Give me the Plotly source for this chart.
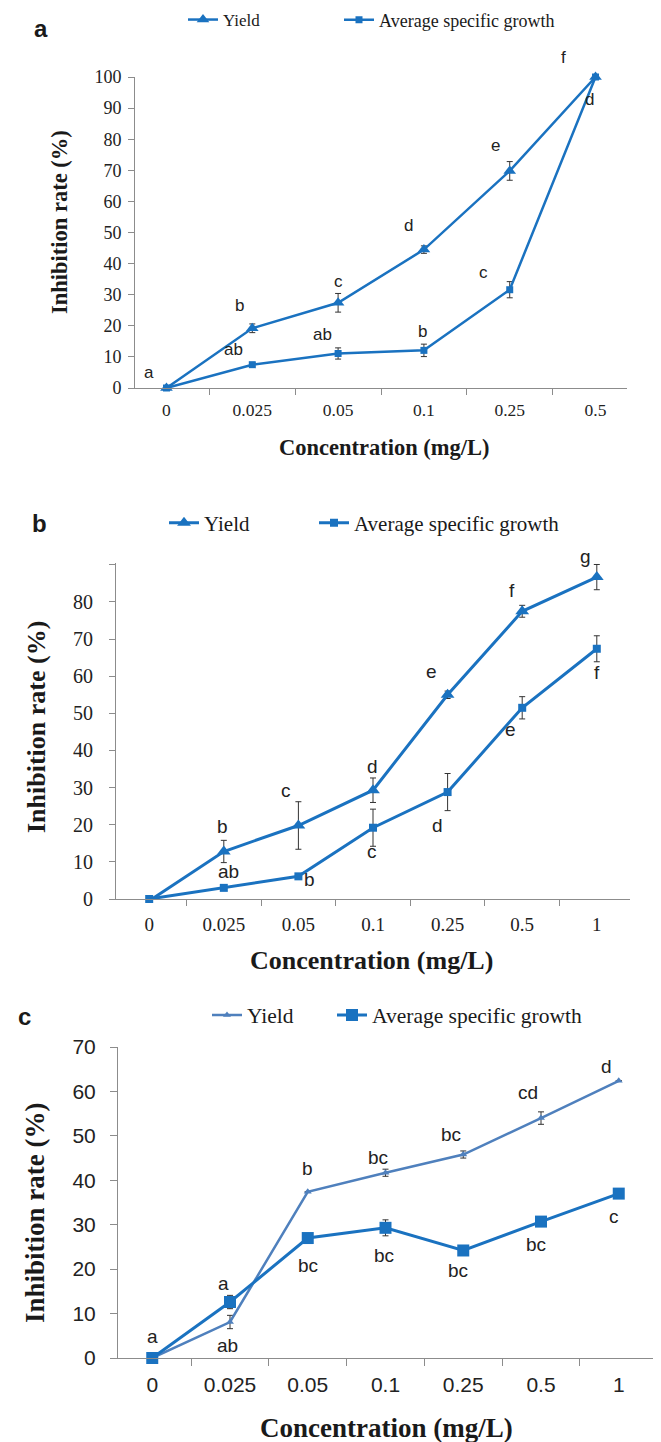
import plotly.graph_objects as go

W, H = 661, 1442

# ---- panel a ----
conc_a = ["0", "0.025", "0.05", "0.1", "0.25", "0.5"]
yield_a = [0, 19.2, 27.4, 44.5, 69.8, 100]
yield_a_err = [0, 1.4, 3.0, 1.2, 3.0, 0]
asg_a = [0, 7.5, 11.1, 12.1, 31.6, 100]
asg_a_err = [0, 0.7, 1.8, 2.0, 2.6, 0]
yield_a_letters = ["a", "b", "c", "d", "e", "f"]
asg_a_letters = ["", "ab", "ab", "b", "c", "d"]

# ---- panel b ----
conc_b = ["0", "0.025", "0.05", "0.1", "0.25", "0.5", "1"]
yield_b = [-0.5, 12.8, 19.8, 29.3, 55.0, 77.5, 86.7]
yield_b_err = [0, 3.0, 6.4, 3.3, 1.0, 1.6, 3.4]
asg_b = [0, 3.0, 6.1, 19.2, 28.8, 51.5, 67.4]
asg_b_err = [0, 0, 0, 5.0, 5.0, 3.0, 3.5]
yield_b_letters = ["a", "b", "c", "d", "e", "f", "g"]
asg_b_letters = ["", "ab", "b", "c", "d", "e", "f"]

# ---- panel c ----
conc_c = ["0", "0.025", "0.05", "0.1", "0.25", "0.5", "1"]
yield_c = [0, 8.1, 37.4, 41.7, 45.8, 54.0, 62.4]
yield_c_err = [0, 1.5, 0, 0.8, 0.8, 1.4, 0]
asg_c = [0, 12.6, 27.0, 29.3, 24.2, 30.7, 37.0]
asg_c_err = [0, 1.5, 0, 1.8, 0, 0, 0]
yield_c_letters = ["a", "ab", "b", "bc", "bc", "cd", "d"]
asg_c_letters = ["", "a", "bc", "bc", "bc", "bc", "c"]

# label offsets in pixels (xshift, yshift) for each letter
yield_a_shift = [(-17, 16), (-13, 23), (0, 21), (-15, 24), (-14, 25), (-32, 19)]
asg_a_shift = [(0, 0), (-19, 15), (-16, 19), (-1, 19), (-26, 17), (-6, -23)]
yield_b_shift = [(-13, 16), (-1, 25), (-12, 35), (-1, 24), (-16, 23), (-10, 21), (-11, 21)]
asg_b_shift = [(0, 0), (5, 16), (11, -3), (-1, -24), (-10, -33), (-12, -22), (0, -24)]
yield_c_shift = [(0, 22), (-3, -23), (0, 23), (-8, 15), (-12, 20), (-13, 26), (-12, 14)]
asg_c_shift = [(0, 0), (-7, 19), (0, -27), (-2, -28), (-5, -20), (-5, -23), (-5, -23)]

BLUE = "#1a72c0"
BLUE_LIGHT = "#4f80bd"
SERIF = "Liberation Serif"
SANS = "Liberation Sans"
INK = "#1a1a1a"


def dom_x(p0, p1):
    return [p0 / W, p1 / W]


def dom_y(bottom, top):
    return [1 - bottom / H, 1 - top / H]


fig = go.Figure()


def add_panel(n, conc, yv, ye, av, ae, yl, al, ys, ash, yield_style, asg_style, legends):
    xa = "x" if n == 1 else "x%d" % n
    ya = "y" if n == 1 else "y%d" % n
    err = dict(color="#333333", thickness=1, width=3)
    fig.add_trace(go.Scatter(
        x=conc, y=yv, name="Yield", mode="lines+markers",
        line=dict(color=yield_style["color"], width=yield_style["lw"]),
        marker=dict(symbol="triangle-up", size=yield_style["ms"], color=yield_style["color"]),
        error_y=dict(type="data", array=ye, visible=True, **err),
        xaxis=xa, yaxis=ya, legend=legends[0], cliponaxis=False))
    fig.add_trace(go.Scatter(
        x=conc, y=av, name="Average specific growth", mode="lines+markers",
        line=dict(color=asg_style["color"], width=asg_style["lw"]),
        marker=dict(symbol="square", size=asg_style["ms"], color=asg_style["color"]),
        error_y=dict(type="data", array=ae, visible=True, **err),
        xaxis=xa, yaxis=ya, legend=legends[1], cliponaxis=False))
    for labels, vals, shifts in ((yl, yv, ys), (al, av, ash)):
        for i, (v, t, s) in enumerate(zip(vals, labels, shifts)):
            if not t:
                continue
            fig.add_annotation(x=i, y=v, xref=xa, yref=ya, text=t, showarrow=False,
                               xshift=s[0], yshift=s[1],
                               font=dict(family=SANS, size=yield_style["lf"], color="#222222"))


add_panel(1, conc_a, yield_a, yield_a_err, asg_a, asg_a_err, yield_a_letters, asg_a_letters,
          yield_a_shift, asg_a_shift,
          dict(color=BLUE, lw=2.5, ms=11, lf=17), dict(color=BLUE, lw=2.5, ms=7),
          ("legend", "legend2"))
add_panel(2, conc_b, yield_b, yield_b_err, asg_b, asg_b_err, yield_b_letters, asg_b_letters,
          yield_b_shift, asg_b_shift,
          dict(color=BLUE, lw=3, ms=12, lf=19), dict(color=BLUE, lw=3, ms=8),
          ("legend3", "legend4"))
add_panel(3, conc_c, yield_c, yield_c_err, asg_c, asg_c_err, yield_c_letters, asg_c_letters,
          yield_c_shift, asg_c_shift,
          dict(color=BLUE_LIGHT, lw=2.5, ms=7, lf=19), dict(color=BLUE, lw=3, ms=12),
          ("legend5", "legend6"))

axis_common = dict(showline=True, linecolor="#8c8c8c", linewidth=1, ticks="outside",
                   tickcolor="#8c8c8c", showgrid=False, zeroline=False, fixedrange=True)


def legend_at(text_x, yc, size):
    # text_x: where the legend text should start, in px
    return dict(orientation="h", x=(text_x - 40) / W, y=1 - yc / H, xanchor="left",
                yanchor="middle", font=dict(family=SERIF, size=size, color=INK),
                itemwidth=30, bgcolor="rgba(0,0,0,0)")


fig.update_layout(
    width=W, height=H, margin=dict(l=0, r=0, t=0, b=0, autoexpand=False),
    paper_bgcolor="white", plot_bgcolor="white", showlegend=True,
    # panel a
    xaxis=dict(domain=dom_x(135, 627), anchor="y", type="category", tickson="boundaries",
               ticklen=6, tickfont=dict(family=SERIF, size=17.5, color="#222222"),
               ticklabelstandoff=6, **axis_common),
    yaxis=dict(domain=dom_y(388, 77), anchor="x", range=[0, 100], tickvals=list(range(0, 101, 10)),
               ticklen=6, tickfont=dict(family=SERIF, size=18, color="#222222"),
               ticklabelstandoff=3, **axis_common),
    # panel b
    xaxis2=dict(domain=dom_x(116, 630), anchor="y2", type="category", tickson="boundaries",
                ticklen=6, tickfont=dict(family=SERIF, size=19, color="#222222"),
                ticklabelstandoff=8, **axis_common),
    yaxis2=dict(domain=dom_y(899, 563), anchor="x2", range=[0, 90.5],
                tickvals=list(range(0, 91, 10)),
                ticktext=[str(v) if v < 90 else "" for v in range(0, 91, 10)],
                ticklen=6, tickfont=dict(family=SERIF, size=20, color="#222222"),
                ticklabelstandoff=12, **axis_common),
    # panel c
    xaxis3=dict(domain=dom_x(118, 653), anchor="y3", type="category", tickson="boundaries",
                ticklen=7, tickfont=dict(family=SANS, size=21, color="#222222"),
                ticklabelstandoff=8, **axis_common),
    yaxis3=dict(domain=dom_y(1358, 1047), anchor="x3", range=[0, 70],
                tickvals=list(range(0, 71, 10)),
                ticklen=7, tickfont=dict(family=SANS, size=21, color="#222222"),
                ticklabelstandoff=10, **axis_common),
    legend=legend_at(223, 20, 17),
    legend2=legend_at(379, 20, 18),
    legend3=legend_at(204, 523, 21),
    legend4=legend_at(354, 523, 21),
    legend5=legend_at(247, 1015, 21.5),
    legend6=legend_at(372, 1015, 21.5),
)

# axis titles and panel letters
x_titles = [(384, 448, 22.5), (372, 960, 26), (386, 1428, 27)]
y_titles = [(60, 222, 22.5), (36, 727, 26), (35, 1213, 27)]
centred = dict(xref="paper", yref="paper", xanchor="center", yanchor="middle", showarrow=False)
for px, py, size in x_titles:
    fig.add_annotation(x=px / W, y=1 - py / H, text="<b>Concentration (mg/L)</b>",
                       font=dict(family=SERIF, size=size, color=INK), **centred)
for px, py, size in y_titles:
    fig.add_annotation(x=px / W, y=1 - py / H, text="<b>Inhibition rate (%)</b>", textangle=-90,
                       font=dict(family=SERIF, size=size, color=INK), **centred)
for letter, px, py in (("a", 41, 29), ("b", 39, 523), ("c", 24, 1016)):
    fig.add_annotation(x=px / W, y=1 - py / H, text="<b>%s</b>" % letter,
                       font=dict(family=SANS, size=24, color=INK), **centred)

# drop the default page margin so the figure sits at the window's top-left corner
fig.write_html("out.html", config={"displayModeBar": False},
               post_script="document.body.style.margin='0';")
